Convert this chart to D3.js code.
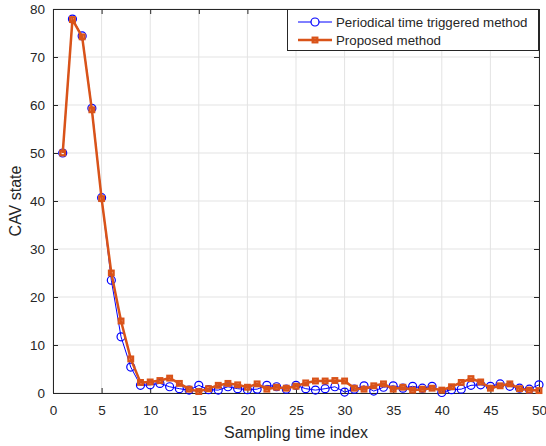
<!DOCTYPE html>
<html>
<head>
<meta charset="utf-8">
<style>
  body { margin: 0; background: #fff; }
  text { font-family: "Liberation Sans", Arial, sans-serif; fill: #262626; }
</style>
<script src="https://cdn.jsdelivr.net/npm/d3@7"></script>
</head>
<body>
<script>
  var periodic = [50, 77.9, 74.4, 59.3, 40.7, 23.5, 11.7, 5.4, 1.6, 1.7,
                  2.0, 1.3, 0.9, 0.6, 1.6, 0.7, 0.6, 1.3, 0.9, 0.7,
                  0.8, 1.6, 1.3, 0.8, 1.6, 0.9, 0.6, 0.9, 1.3, 0.2,
                  0.8, 1.5, 0.4, 1.2, 1.5, 1.0, 1.4, 1.0, 1.4, 0.1,
                  0.7, 0.8, 1.6, 1.7, 1.4, 1.9, 1.4, 1.0, 0.8, 1.7];
  var proposed = [50, 77.8, 74.2, 59.0, 40.5, 25.0, 15.0, 7.1, 2.2, 2.3,
                  2.6, 3.1, 2.0, 0.8, 0.3, 0.9, 1.6, 2.0, 1.7, 1.2,
                  1.9, 0.8, 1.2, 1.0, 1.4, 2.1, 2.5, 2.5, 2.6, 2.5,
                  1.0, 0.8, 1.5, 1.9, 0.8, 1.2, 0.6, 0.8, 1.0, 0.6,
                  1.3, 2.2, 3.0, 2.3, 1.0, 1.5, 1.9, 0.9, 0.6, 0.5];
  var xTicks = [0, 5, 10, 15, 20, 25, 30, 35, 40, 45, 50];
  var yTicks = [0, 10, 20, 30, 40, 50, 60, 70, 80];
  var legendNames = ["Periodical time triggered method", "Proposed method"];

  var w = 546, h = 446;
  var pL = 53, pR = 539, pT = 9, pB = 393;

  var x = d3.scaleLinear().domain([0, 50]).range([pL, pR]);
  var y = d3.scaleLinear().domain([0, 80]).range([pB, pT]);

  var svg = d3.select("body").append("svg")
    .attr("width", w).attr("height", h);

  // grid
  svg.append("g").selectAll("line").data(xTicks).enter().append("line")
    .attr("x1", d => x(d)).attr("x2", d => x(d))
    .attr("y1", pT).attr("y2", pB)
    .attr("stroke", "#e3e3e3").attr("stroke-width", 1);
  svg.append("g").selectAll("line").data(yTicks).enter().append("line")
    .attr("y1", d => y(d)).attr("y2", d => y(d))
    .attr("x1", pL).attr("x2", pR)
    .attr("stroke", "#e3e3e3").attr("stroke-width", 1);

  // axes
  svg.append("g").attr("transform", "translate(0," + pB + ")")
    .call(d3.axisBottom(x).tickValues(xTicks).tickSize(-5).tickPadding(12));
  svg.append("g").attr("transform", "translate(" + pL + ",0)")
    .call(d3.axisLeft(y).tickValues(yTicks).tickSize(-5).tickPadding(8));
  svg.append("g").attr("transform", "translate(0," + pT + ")")
    .call(d3.axisTop(x).tickValues(xTicks).tickSize(-5).tickFormat(""));
  svg.append("g").attr("transform", "translate(" + pR + ",0)")
    .call(d3.axisRight(y).tickValues(yTicks).tickSize(-5).tickFormat(""));
  svg.selectAll(".domain").attr("stroke", "#262626");
  svg.selectAll(".tick line").attr("stroke", "#262626");
  svg.selectAll(".tick text").attr("font-size", 13.5)
    .style("font-family", "'Liberation Sans', Arial, sans-serif").attr("fill", "#262626");

  svg.append("text").attr("x", (pL + pR) / 2).attr("y", 438)
    .attr("text-anchor", "middle").attr("font-size", 16).text("Sampling time index");
  svg.append("text").attr("transform", "translate(21," + (pT + pB) / 2 + ") rotate(-90)")
    .attr("text-anchor", "middle").attr("font-size", 16).text("CAV state");

  var line = d3.line().x((d, i) => x(i + 1)).y(d => y(d));
  var blue = "#0000ff", orange = "#d95319";

  svg.append("path").datum(periodic).attr("d", line)
    .attr("fill", "none").attr("stroke", blue).attr("stroke-width", 1);
  svg.append("g").selectAll("circle").data(periodic).enter().append("circle")
    .attr("cx", (d, i) => x(i + 1)).attr("cy", d => y(d)).attr("r", 4)
    .attr("fill", "none").attr("stroke", blue).attr("stroke-width", 1.2);

  svg.append("path").datum(proposed).attr("d", line)
    .attr("fill", "none").attr("stroke", orange).attr("stroke-width", 2.5);
  svg.append("g").selectAll("rect").data(proposed).enter().append("rect")
    .attr("x", (d, i) => x(i + 1) - 2.3).attr("y", d => y(d) - 2.3)
    .attr("width", 4.6).attr("height", 4.6)
    .attr("fill", "none").attr("stroke", orange).attr("stroke-width", 2.3);

  // legend
  var lg = svg.append("g");
  lg.append("rect").attr("x", 287.5).attr("y", 9.5).attr("width", 251).attr("height", 41)
    .attr("fill", "#fff").attr("stroke", "#262626").attr("stroke-width", 1);
  var rows = [22, 40];
  lg.append("line").attr("x1", 298).attr("x2", 332).attr("y1", rows[0]).attr("y2", rows[0])
    .attr("stroke", blue).attr("stroke-width", 1);
  lg.append("circle").attr("cx", 315).attr("cy", rows[0]).attr("r", 4)
    .attr("fill", "#fff").attr("stroke", blue).attr("stroke-width", 1.2);
  lg.append("line").attr("x1", 298).attr("x2", 332).attr("y1", rows[1]).attr("y2", rows[1])
    .attr("stroke", orange).attr("stroke-width", 2.5);
  lg.append("rect").attr("x", 312.7).attr("y", rows[1] - 2.3).attr("width", 4.6).attr("height", 4.6)
    .attr("fill", "none").attr("stroke", orange).attr("stroke-width", 2.3);
  lg.selectAll("text.lbl").data(legendNames).enter().append("text")
    .attr("x", 336).attr("y", (d, i) => rows[i] + 4.7)
    .attr("font-size", 13.3).text(d => d);
</script>
</body>
</html>
